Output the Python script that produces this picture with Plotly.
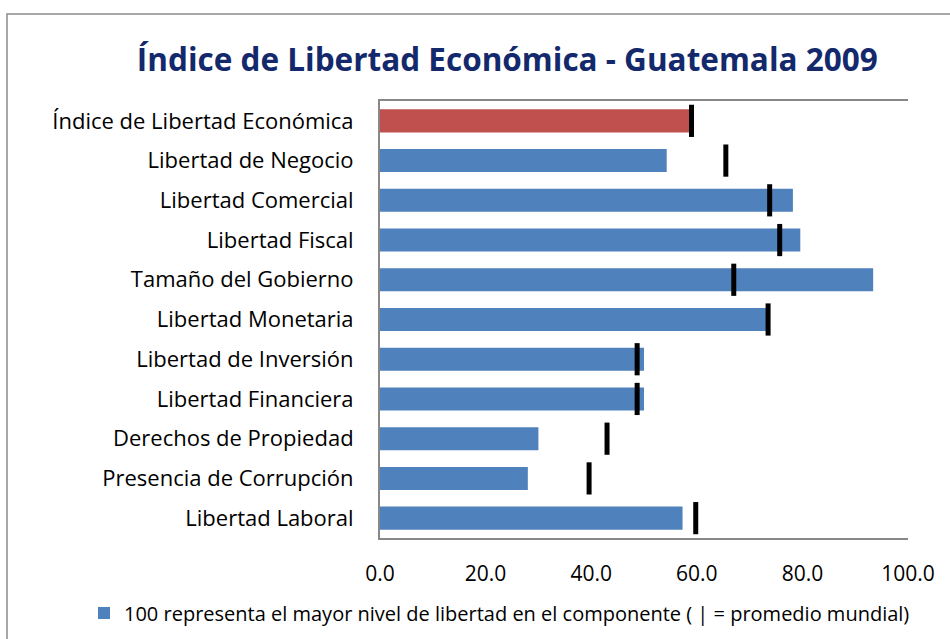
import plotly.graph_objects as go

categories = [
    "Índice de Libertad Económica",
    "Libertad de Negocio",
    "Libertad Comercial",
    "Libertad Fiscal",
    "Tamaño del Gobierno",
    "Libertad Monetaria",
    "Libertad de Inversión",
    "Libertad Financiera",
    "Derechos de Propiedad",
    "Presencia de Corrupción",
    "Libertad Laboral",
]
guatemala = [59.4, 54.3, 78.2, 79.6, 93.4, 73.2, 50.0, 50.0, 30.0, 28.0, 57.3]
world_avg = [59.0, 65.5, 73.8, 75.7, 67.0, 73.5, 48.7, 48.7, 43.0, 39.6, 59.8]
tick_vals = [0, 20, 40, 60, 80, 100]
tick_text = ["0.0", "20.0", "40.0", "60.0", "80.0", "100.0"]
legend_name = "100 representa el mayor nivel de libertad en el componente ( | = promedio mundial)"
title_text = "Índice de Libertad Económica - Guatemala 2009"

FONT = "Open Sans"
W, H = 950, 639
L, R, T, B = 380, 908, 101, 538

fig = go.Figure()
fig.add_trace(go.Bar(
    y=categories[1:], x=guatemala[1:], orientation="h",
    marker=dict(color="#4F81BD", line=dict(width=0)),
    width=0.58, name=legend_name, showlegend=True,
))
fig.add_trace(go.Bar(
    y=categories[:1], x=guatemala[:1], orientation="h",
    marker=dict(color="#C0504D", line=dict(width=0)),
    width=0.58, showlegend=False,
))
fig.add_trace(go.Scatter(
    y=categories, x=world_avg, mode="markers",
    marker=dict(symbol="line-ns", size=23, color="black",
                line=dict(width=5, color="black")),
    showlegend=False,
))

def px(x):
    return (x - L) / (R - L)

def py(y):
    return (B - y) / (B - T)

n = len(categories)
fig.update_layout(
    width=W, height=H,
    margin=dict(l=L, r=W - R, t=T, b=H - B, autoexpand=False),
    paper_bgcolor="white", plot_bgcolor="white",
    barmode="overlay",
    font=dict(family=FONT, size=21, color="black"),
    title=dict(text="<b>" + title_text + "</b>", x=0.534, xanchor="center",
               y=1 - 60 / H, yanchor="middle",
               font=dict(family=FONT, size=31.5, color="#13296B")),
    xaxis=dict(range=[0, 100], tickvals=tick_vals, ticktext=tick_text,
               showgrid=False, zeroline=False, showline=True, mirror=True,
               linecolor="#888888", linewidth=2, ticks="", automargin=False,
               tickfont=dict(size=21), ticklabelstandoff=16),
    yaxis=dict(categoryorder="array", categoryarray=categories,
               range=[n - 0.5, -0.5], showgrid=False, zeroline=False,
               showline=True, linecolor="#888888", linewidth=2, ticks="",
               automargin=False,
               ticklabelstandoff=20, tickfont=dict(size=22)),
    legend=dict(orientation="h", xref="container", yref="container",
                x=84 / W, y=1 - 613 / H, xanchor="left", yanchor="middle",
                font=dict(size=20), itemwidth=30, bgcolor="rgba(0,0,0,0)"),
    shapes=[dict(type="rect", xref="paper", yref="paper",
                 x0=px(7), x1=px(960), y0=py(14), y1=py(660),
                 line=dict(color="#8C8C8C", width=1.5), layer="below")],
)

fig.write_html("out.html", config={"displayModeBar": False},
               post_script="document.body.style.margin='0';")
